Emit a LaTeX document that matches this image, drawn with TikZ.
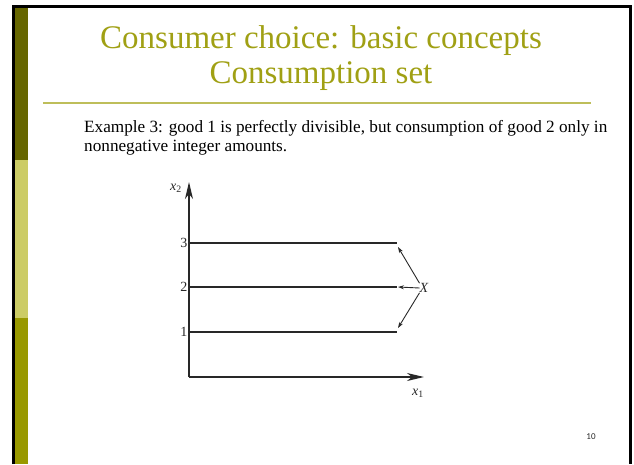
\documentclass[tikz,border=0pt]{standalone}
\usepackage{fontspec}
\setmainfont{Liberation Serif}
\newfontfamily\pagefont{Carlito}
\usetikzlibrary{arrows.meta}
\definecolor{olivedark}{RGB}{102,102,0}
\definecolor{olivelight}{RGB}{204,204,102}
\definecolor{olivemid}{RGB}{153,153,0}
\definecolor{titlecol}{RGB}{160,160,20}
\definecolor{rulecol}{RGB}{190,190,90}
\definecolor{ink}{RGB}{40,40,40}
\begin{document}
\begin{tikzpicture}[x=1pt, y=-1pt,
    titletext/.style={text=titlecol, font=\fontsize{33}{36}\selectfont, anchor=base, inner sep=0pt},
    bodytext/.style={font=\fontsize{17.2}{20}\selectfont, anchor=base west, inner sep=0pt},
    ticklabel/.style={font=\fontsize{14}{14}\selectfont, text=ink, inner sep=1.5pt},
    axis/.style={draw=ink, line width=1.6pt, -{Stealth[length=17pt, width=8pt, inset=5pt]}},
    level/.style={draw=ink, line width=2.6pt},
    pointer/.style={draw=ink, line width=0.9pt, -{Stealth[length=6pt, width=4pt]}}]
    \useasboundingbox (0,0) rectangle (634,464);
    % frame and side bar
    \fill[olivedark] (15,7) rectangle (28,160);
    \fill[olivelight] (15,160) rectangle (28,318);
    \fill[olivemid] (15,318) rectangle (28,464);
    \draw[line width=3pt] (13.5,464) -- (13.5,6) -- (630.5,6) -- (630.5,464);
    % title
    \node[titletext](title1)at(321,48){Consumer choice: basic concepts};
    \node[titletext](title2)at(321,83){Consumption set};
    \coordinate(ruleL)at(43,103);
    \coordinate(ruleR)at(591,103);
    \path[draw, rulecol, line width=2pt](ruleL)to(ruleR);
    % text
    \node[bodytext](line1)at(84,132){Example 3: good 1 is perfectly divisible, but consumption of good 2 only in};
    \node[bodytext](line2)at(84,151){nonnegative integer amounts.};
    % axis
    \coordinate(O)at(189,377);
    \coordinate(x1)at(424,377);
    \coordinate(x2)at(189,182);
    \path[axis](O)to(x1);
    \path[axis](O)to(x2);
    \node[ticklabel](x1lab)at(418,393){{\itshape x}\textsubscript{1}};
    \node[ticklabel](x2lab)at(176,188){{\itshape x}\textsubscript{2}};
    % integer levels
    \foreach \k/\y in {1/332, 2/287, 3/243}{
        \coordinate[label={[ticklabel]left:\k}](L\k)at(189,\y);
        \coordinate(E\k)at(397,\y);
        \path[level](L\k)to(E\k);
    }
    % pointers
    \node[ticklabel, inner sep=0pt](X)at(424,288){\itshape X};
    \path[pointer](X.north west)to([shift={(1,4)}]E3);
    \path[pointer](X.west)to([shift={(1,0)}]E2);
    \path[pointer](X.south west)to([shift={(1,-4)}]E1);
    % page number
    \node[font=\pagefont\fontsize{9}{9}\selectfont, text=ink](page)at(591,437){10};
\end{tikzpicture}
\end{document}
